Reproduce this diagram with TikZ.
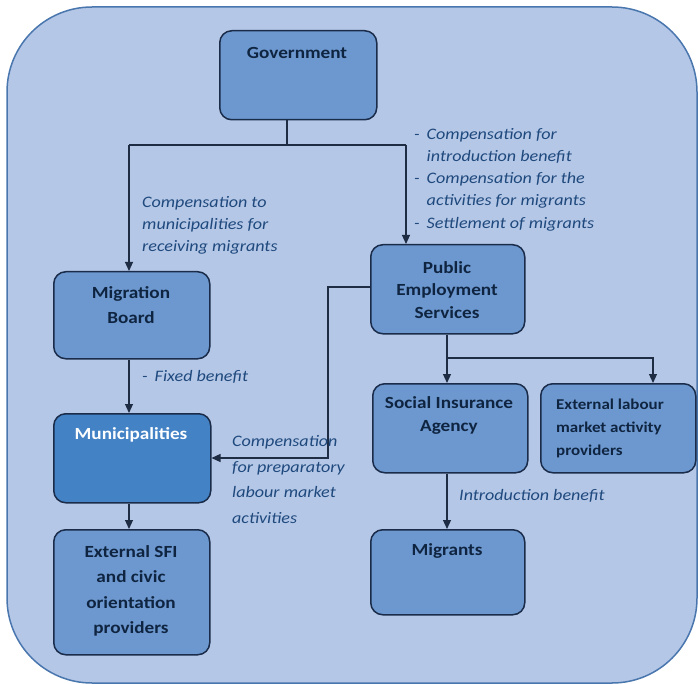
\documentclass[tikz,border=0pt]{standalone}
\usepackage{fontspec}
\setmainfont{Carlito}[FakeStretch=1.13]
\usetikzlibrary{arrows.meta}
\definecolor{bgfill}{HTML}{B4C7E7}
\definecolor{bgline}{HTML}{4A76AE}
\definecolor{boxfill}{HTML}{6C98CF}
\definecolor{munfill}{HTML}{4282C5}
\definecolor{boxline}{HTML}{1A2C4A}
\definecolor{boxtext}{HTML}{0F2440}
\definecolor{labtext}{HTML}{1F497D}
\definecolor{conn}{HTML}{1F2D44}
\begin{document}
\begin{tikzpicture}[x=1pt,y=-1pt,
  boxshape/.style={draw=boxline,line width=1.5pt,fill=boxfill,rounded corners=12pt,inner sep=0pt,anchor=north west},
  boxlabel/.style={text=boxtext,font=\fontsize{17}{23}\selectfont\bfseries,align=center,inner sep=0pt},
  smalllabel/.style={text=boxtext,font=\fontsize{15}{23}\selectfont\bfseries,align=left,inner sep=0pt},
  flowlabel/.style={text=labtext,font=\fontsize{16}{22}\selectfont\itshape,align=left,inner sep=0pt,anchor=west},
  link/.style={draw=conn,line width=1.1pt},
  arr/.style={link,-{Triangle[length=9pt,width=8pt]}}]
\useasboundingbox (0,0) rectangle (698,684);
\draw[fill=bgfill,draw=bgline,line width=1.5pt,rounded corners=85pt] (7,7) rectangle (697,683);

% boxes
\node[boxshape,minimum width=157pt,minimum height=89pt] (gov) at (219,30) {};
\node[boxshape,minimum width=156pt,minimum height=87pt] (mb) at (53,271) {};
\node[boxshape,minimum width=154pt,minimum height=89pt] (pes) at (370,244) {};
\node[boxshape,minimum width=157pt,minimum height=89pt,fill=munfill] (mun) at (53,413) {};
\node[boxshape,minimum width=155pt,minimum height=89pt] (sia) at (372,383) {};
\node[boxshape,minimum width=155pt,minimum height=89pt] (elm) at (540,383) {};
\node[boxshape,minimum width=156pt,minimum height=125pt] (sfi) at (53,529) {};
\node[boxshape,minimum width=154pt,minimum height=85pt] (mig) at (370,529) {};

% box texts
\node[boxlabel] (govt) at (297,53) {Government};
\node[boxlabel,font=\fontsize{17}{25}\selectfont\bfseries] (mbt) at (131,305.5) {Migration\\Board};
\node[boxlabel,font=\fontsize{17}{22.5}\selectfont\bfseries] (pest) at (447,290) {Public\\Employment\\Services};
\node[boxlabel,text=white] (munt) at (131,435) {Municipalities};
\node[boxlabel] (siat) at (449,415.5) {Social Insurance\\Agency};
\node[smalllabel,anchor=west] (elmt) at (556,428) {External labour\\market activity\\providers};
\node[boxlabel,font=\fontsize{17}{25.3}\selectfont\bfseries] (sfit) at (131,591) {External SFI\\and civic\\orientation\\providers};
\node[boxlabel] (migt) at (447,551) {Migrants};

% connectors
\coordinate (jm) at (287,145);
\coordinate (jl) at (129,145);
\coordinate (jr) at (406,145);
\draw[link] (gov.south -| jm) -- (jm);
\draw[link] (jl) -- (jr);
\draw[arr] (jl) -- (jl |- mb.north);
\draw[arr] (jr) -- (jr |- pes.north);
\draw[arr] (mb.south -| jl) -- (mun.north -| jl);
\draw[arr] (mun.south -| jl) -- (sfi.north -| jl);
\coordinate (pk1) at (328,287);
\coordinate (pk2) at (328,458);
\draw[arr] (pes.west |- pk1) -- (pk1) -- (pk2) -- (mun.east |- pk2);
\coordinate (pb) at (447,358);
\coordinate (pr) at (653,358);
\draw[link] (pes.south -| pb) -- (pb);
\draw[arr] (pb) -- (pb |- sia.north);
\draw[arr] (pb) -- (pr) -- (pr |- elm.north);
\draw[arr] (sia.south -| pb) -- (mig.north -| pb);

% flow labels
\node[flowlabel] (l1) at (142,225) {Compensation to\\municipalities for\\receiving migrants};
\node[flowlabel,font=\fontsize{16}{22.25}\selectfont\itshape] (l2) at (414,179.5) {-\hspace{7pt}Compensation for\\\hphantom{-\hspace{7pt}}introduction benefit\\-\hspace{7pt}Compensation for the\\\hphantom{-\hspace{7pt}}activities for migrants\\-\hspace{7pt}Settlement of migrants};
\node[flowlabel] (l3) at (142,377) {-\hspace{7pt}Fixed benefit};
\node[flowlabel,font=\fontsize{16}{25.7}\selectfont\itshape] (l4) at (232,479.5) {Compensation\\for preparatory\\labour market\\activities};
\node[flowlabel] (l5) at (459,496) {Introduction benefit};
\end{tikzpicture}
\end{document}
